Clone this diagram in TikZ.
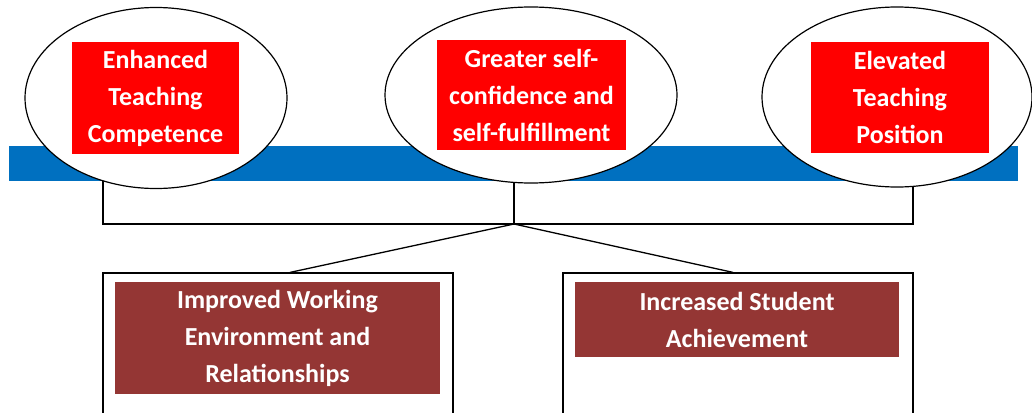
\documentclass[tikz,border=0pt]{standalone}
\usepackage{fontspec}
\setmainfont{Carlito}
\usetikzlibrary{shapes.geometric,backgrounds}
\definecolor{barblue}{HTML}{0070C0}
\definecolor{boxred}{HTML}{FF0000}
\definecolor{darkred}{HTML}{943634}
\tikzset{
  lbl/.style={font=\fontsize{26}{37}\selectfont\bfseries, text=white, align=center, inner sep=0pt},
  oval/.style={ellipse, draw=black, line width=1.2pt, fill=white, inner sep=0pt},
  redbox/.style={lbl, fill=boxred, draw=none},
  brownbox/.style={lbl, fill=darkred, draw=none},
  outerbox/.style={draw=black, line width=1.2pt, fill=white, inner sep=0pt},
  conn/.style={draw=black, line width=1.3pt},
}
\begin{document}
\begin{tikzpicture}[x=1pt,y=-1pt]
\useasboundingbox (0,0) rectangle (1032,412);
\clip (0,0) rectangle (1032,412);
% blue bar
\node[fill=barblue, minimum width=1009pt, minimum height=35pt, inner sep=0pt] (bar) at (513.5,163.5) {};
% ovals
\node[oval, minimum width=262pt, minimum height=181pt] (e1) at (156,98) {};
\node[oval, minimum width=292pt, minimum height=176pt] (e2) at (531,95) {};
\node[oval, minimum width=270pt, minimum height=180pt] (e3) at (897,97) {};
% red boxes
\node[redbox, minimum width=167pt, minimum height=112pt] (r1) at (155.5,98) {Enhanced\\Teaching\\Competence};
\node[redbox, minimum width=189pt, minimum height=110pt] (r2) at (531.5,95) {Greater self-\\confidence and\\self-fulfillment};
\node[redbox, minimum width=178pt, minimum height=111pt] (r3) at (900,97.5) {Elevated\\Teaching\\Position};
% bottom outer boxes
\node[outerbox, minimum width=350pt, minimum height=150pt] (o1) at (278,348) {};
\node[outerbox, minimum width=350pt, minimum height=150pt] (o2) at (738,348) {};
% inner boxes
\node[brownbox, minimum width=325pt, minimum height=112pt] (d1) at (277.5,338) {Improved Working\\Environment and\\Relationships};
\node[brownbox, minimum width=324pt, minimum height=75pt] (d2) at (737,319.5) {Increased Student\\Achievement};
% connectors
\coordinate (j) at (514,224);
\coordinate (bl) at (103,224);
\coordinate (br) at (913,224);
\begin{pgfonlayer}{background}
\fill[white] (0,0) rectangle (1032,412);
\draw[conn] (e1.center -| bl) -- (bl) -- (br) -- (e3.center -| br);
\draw[conn] (e2.center -| j) -- (j);
\end{pgfonlayer}
\draw[conn] (j) -- ([xshift=12pt]o1.north);
\draw[conn] (j) -- ([xshift=-5pt]o2.north);
\end{tikzpicture}
\end{document}
